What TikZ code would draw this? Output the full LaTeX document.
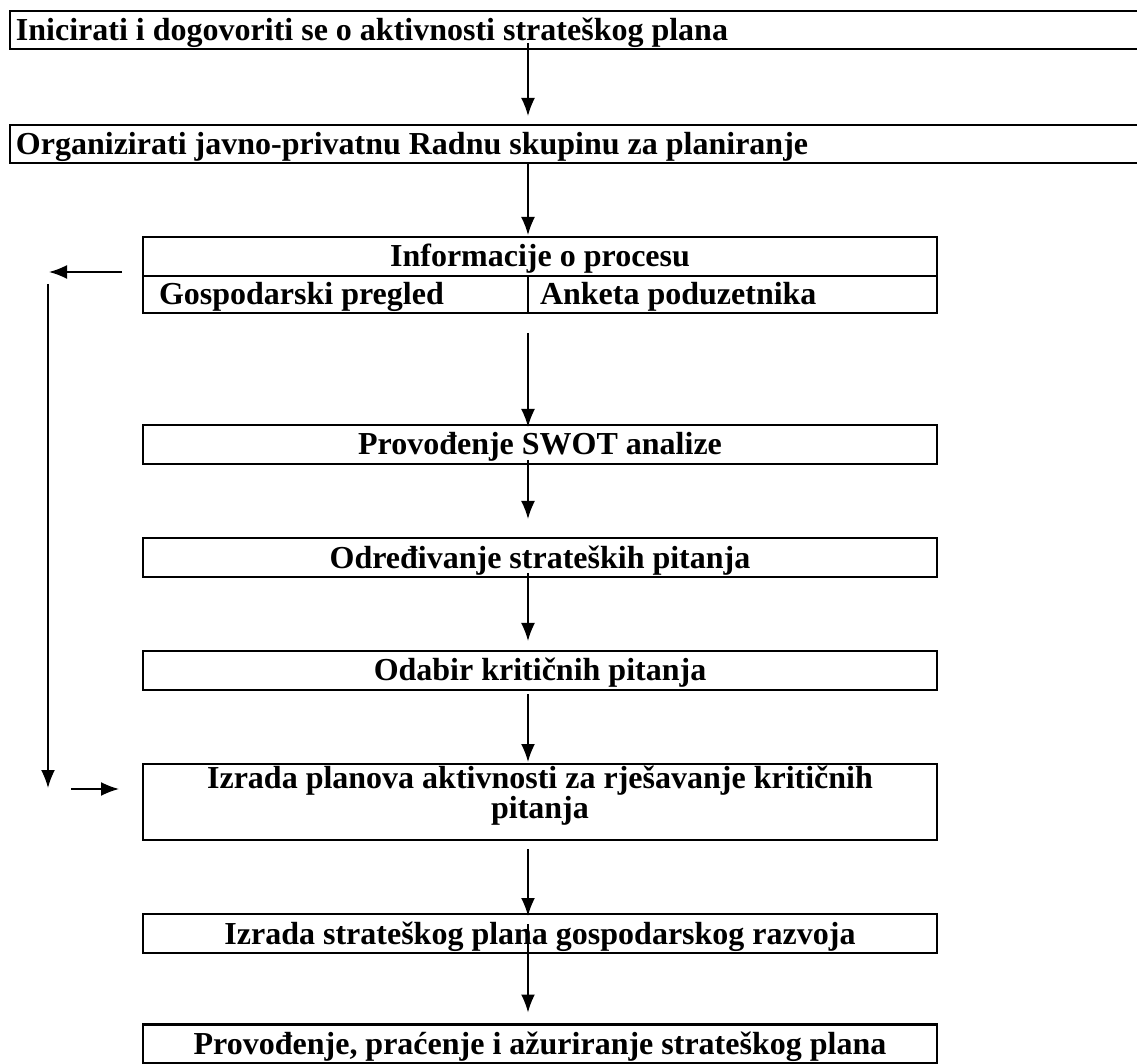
\documentclass[tikz,border=0pt]{standalone}
\usepackage{fontspec}
\setmainfont{Liberation Serif}
\usetikzlibrary{arrows.meta}

\begin{document}
\begin{tikzpicture}[x=0.5pt, y=-0.5pt,
    every node/.style={font=\fontsize{16}{18.4}\selectfont\bfseries, outer sep=0pt},
    stepbox/.style={draw, line width=1.3pt, inner sep=0pt, minimum width=\boxw, minimum height=19.5pt,
                    text height=14.5pt, text depth=4pt, align=center},
    widebox/.style={draw, line width=1.3pt, anchor=west, inner xsep=3pt, inner ysep=0pt, minimum height=19pt,
                    text height=14.5pt, text depth=4pt, text width=600pt, align=flush left},
    cellbox/.style={widebox, minimum height=18.5pt},
    flow/.style={->, >={Latex[length=9pt,width=7pt]}, line width=0.9pt}]
      \def \boxw {397pt}
      \def \axisx {528}
      \clip (0,0) rectangle (1137,1064);
      \coordinate (axis) at (\axisx,0);

      % top two bars run off the right edge
      \node[widebox] (box1) at (10,30) {Inicirati i dogovoriti se o aktivnosti strateškog plana};
      \node[widebox] (box2) at (10,144) {Organizirati javno-privatnu Radnu skupinu za planiranje};

      % information box with two cells
      \node[stepbox] (info) at (540,256.5) {Informacije o procesu};
      \node[cellbox, inner xsep=8pt, text width=176.5pt] (gosp) at (143,294.5) {Gospodarski pregled};
      \node[cellbox, inner xsep=6pt, text width=192.5pt] (anketa) at (\axisx,294.5) {Anketa poduzetnika};

      \foreach \nm/\y/\txt in {swot/444.5/Provođenje SWOT analize,
                               issues/557.5/Određivanje strateških pitanja,
                               critical/670.5/Odabir kritičnih pitanja,
                               strategy/933.5/Izrada strateškog plana gospodarskog razvoja,
                               monitor/1044/{Provođenje, praćenje i ažuriranje strateškog plana}}
      {
        \node[stepbox] (\nm) at (540,\y) {\txt};
      }
      \node[stepbox, minimum height=38pt, font=\fontsize{16}{15}\selectfont\bfseries,
            text height=, text depth=9.5pt] (plans) at (540,802)
            {Izrada planova aktivnosti za rješavanje kritičnih\\pitanja};

      % main chain
      \foreach \a/\b/\s/\e in {box1/box2/-3pt/4.5pt, box2/info/0pt/1pt, gosp/swot/10pt/-1pt,
                               swot/issues/-2pt/9.5pt, issues/critical/-2pt/5pt, critical/plans/2pt/1pt,
                               plans/strategy/4.5pt/-1pt, strategy/monitor/-14.5pt/6pt}
      {
        \draw[flow, shorten <=\s, shorten >=\e] (\a.south -| axis) -- (\b.north -| axis);
      }

      % feedback loop on the left
      \coordinate (backEnd) at (49,272);
      \coordinate (loopTop) at (48,284);
      \coordinate (loopBot) at (48,788);
      \coordinate (loopStart) at (71,789);
      \draw[flow] ([shift={(-10.5pt,-7.75pt)}]info.west) -- (backEnd);
      \draw[flow] (loopTop) -- (loopBot);
      \draw[flow] (loopStart) -- ([shift={(-12pt,6.5pt)}]plans.west);
    \end{tikzpicture}
\end{document}
